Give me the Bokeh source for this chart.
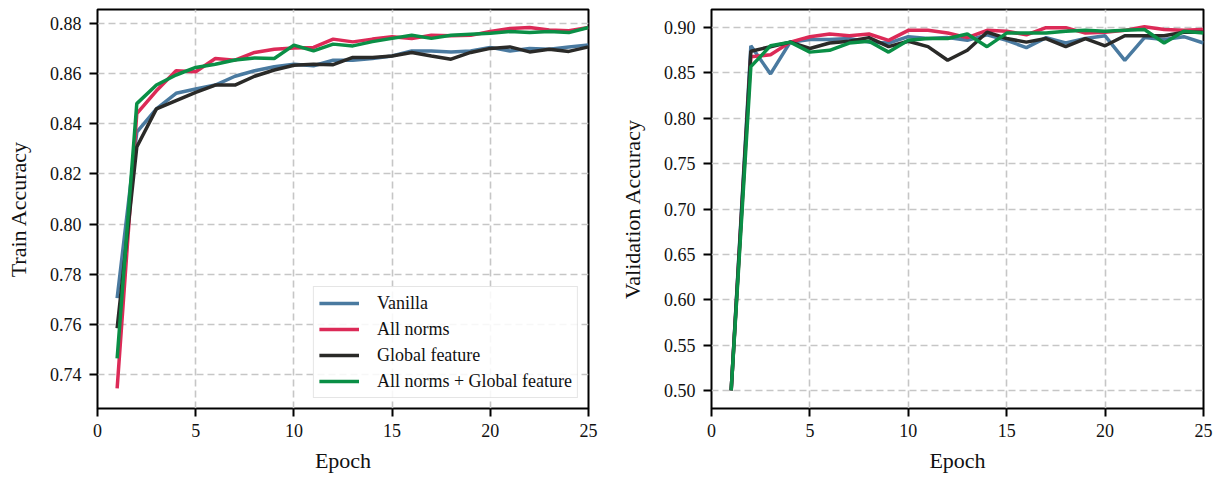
from bokeh.plotting import figure
from bokeh.layouts import row
from bokeh.models import Range1d, FixedTicker, Legend, LegendItem, CustomJSTickFormatter
from bokeh.embed import file_html
from bokeh.resources import INLINE

epochs = list(range(1, 26))

train_vanilla = [0.7705, 0.8366, 0.8459, 0.8521, 0.8538, 0.8554, 0.8589, 0.8611, 0.8627, 0.8637,
                 0.8631, 0.8653, 0.8653, 0.8660, 0.8670, 0.8690, 0.8690, 0.8686, 0.8690, 0.8704,
                 0.8690, 0.8700, 0.8697, 0.8706, 0.8714]
train_allnorms = [0.7345, 0.8440, 0.8531, 0.8611, 0.8607, 0.8660, 0.8653, 0.8684, 0.8697, 0.8702,
                  0.8704, 0.8737, 0.8726, 0.8737, 0.8746, 0.8739, 0.8752, 0.8750, 0.8752, 0.8767,
                  0.8779, 0.8783, 0.8773, 0.8770, 0.8783]
train_global = [0.7585, 0.8307, 0.8459, 0.8492, 0.8525, 0.8554, 0.8554, 0.8589, 0.8614, 0.8633,
                0.8637, 0.8635, 0.8664, 0.8664, 0.8670, 0.8684, 0.8670, 0.8657, 0.8684, 0.8700,
                0.8706, 0.8686, 0.8697, 0.8688, 0.8706]
train_both = [0.7465, 0.8480, 0.8554, 0.8594, 0.8624, 0.8637, 0.8654, 0.8662, 0.8660, 0.8713,
              0.8690, 0.8717, 0.8710, 0.8727, 0.8740, 0.8752, 0.8740, 0.8752, 0.8756, 0.8760,
              0.8767, 0.8763, 0.8767, 0.8763, 0.8783]

val_vanilla = [0.500, 0.880, 0.849, 0.884, 0.887, 0.887, 0.888, 0.884, 0.883, 0.890,
               0.888, 0.889, 0.886, 0.892, 0.886, 0.878, 0.889, 0.883, 0.888, 0.891,
               0.864, 0.889, 0.887, 0.890, 0.883]
val_allnorms = [0.500, 0.868, 0.870, 0.884, 0.890, 0.893, 0.891, 0.893, 0.886, 0.897,
                0.897, 0.894, 0.889, 0.897, 0.896, 0.892, 0.900, 0.900, 0.894, 0.895,
                0.897, 0.901, 0.898, 0.897, 0.898]
val_global = [0.500, 0.874, 0.879, 0.884, 0.877, 0.883, 0.885, 0.889, 0.879, 0.885,
              0.879, 0.864, 0.875, 0.895, 0.888, 0.884, 0.888, 0.879, 0.888, 0.880,
              0.891, 0.891, 0.891, 0.895, 0.895]
val_both = [0.500, 0.857, 0.880, 0.884, 0.873, 0.875, 0.883, 0.885, 0.873, 0.886,
            0.888, 0.888, 0.893, 0.879, 0.894, 0.894, 0.894, 0.896, 0.897, 0.896,
            0.897, 0.898, 0.883, 0.896, 0.894]

labels = ["Vanilla", "All norms", "Global feature", "All norms + Global feature"]
colors = ["#4a7aa0", "#dc2a57", "#2a2a28", "#0a8f46"]

x_ticks = [0, 5, 10, 15, 20, 25]
left_ticks = [0.74, 0.76, 0.78, 0.80, 0.82, 0.84, 0.86, 0.88]
right_ticks = [0.50, 0.55, 0.60, 0.65, 0.70, 0.75, 0.80, 0.85, 0.90]

FONT = "Liberation Serif"


def style(p, xlabel, ylabel, yticks):
    p.xaxis.ticker = FixedTicker(ticks=x_ticks)
    p.yaxis.ticker = FixedTicker(ticks=yticks)
    p.yaxis.formatter = CustomJSTickFormatter(code="return tick.toFixed(2);")
    p.xaxis.axis_label = xlabel
    p.yaxis.axis_label = ylabel
    for ax in (p.xaxis, p.yaxis):
        ax.axis_label_text_font = FONT
        ax.axis_label_text_font_style = "normal"
        ax.axis_label_text_font_size = "22px"
        ax.major_label_text_font = FONT
        ax.major_label_text_font_size = "18px"
        ax.major_label_text_color = "#111111"
        ax.axis_label_text_color = "#111111"
        ax.minor_tick_line_color = None
        ax.major_tick_out = 8
        ax.major_tick_in = 0
        ax.major_tick_line_width = 2
        ax.major_tick_line_color = "black"
        ax.axis_line_color = None
    p.xaxis.major_label_standoff = 7
    p.yaxis.major_label_standoff = 8
    p.xaxis.axis_label_standoff = 8
    p.yaxis.axis_label_standoff = 16
    p.outline_line_color = "black"
    p.outline_line_width = 2
    p.outline_line_alpha = 1
    p.grid.grid_line_color = "#c6c6c6"
    p.grid.grid_line_dash = "7 4"
    p.grid.grid_line_width = 1.6
    p.background_fill_color = "white"
    p.border_fill_color = "white"


# Left plot
p1 = figure(frame_width=491, frame_height=399, output_backend="svg", toolbar_location=None,
            x_range=Range1d(0, 25), y_range=Range1d(0.7265, 0.8855),
            min_border_left=97, min_border_right=20, min_border_top=9, min_border_bottom=66)
style(p1, "Epoch", "Train Accuracy", left_ticks)
items = []
for lab, col, ys in zip(labels, colors, [train_vanilla, train_allnorms, train_global, train_both]):
    r = p1.line(epochs, ys, line_color=col, line_width=3.5)
    items.append(LegendItem(label=lab, renderers=[r]))
leg = Legend(items=items, location="bottom_right")
leg.label_text_font = FONT
leg.label_text_font_size = "18px"
leg.label_text_color = "#111111"
leg.border_line_color = "#cccccc"
leg.border_line_width = 1.5
leg.background_fill_alpha = 0.85
leg.glyph_width = 40
leg.glyph_height = 22
leg.label_height = 22
leg.label_standoff = 18
leg.spacing = 4
leg.padding = 5
leg.margin = 10
p1.add_layout(leg)

# Right plot
p2 = figure(frame_width=492, frame_height=399, output_backend="svg", toolbar_location=None,
            x_range=Range1d(0, 25), y_range=Range1d(0.48, 0.92),
            min_border_left=103, min_border_right=12, min_border_top=9, min_border_bottom=66)
style(p2, "Epoch", "Validation Accuracy", right_ticks)
for lab, col, ys in zip(labels, colors, [val_vanilla, val_allnorms, val_global, val_both]):
    p2.line(epochs, ys, line_color=col, line_width=3.5)

layout = row(p1, p2)
open("out.html", "w").write(file_html(layout, INLINE))
